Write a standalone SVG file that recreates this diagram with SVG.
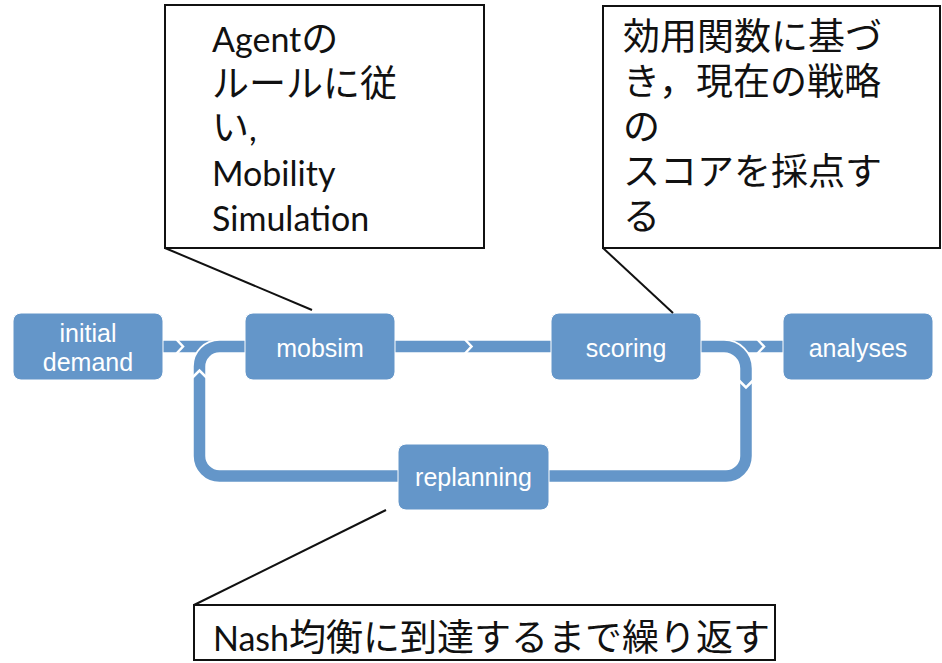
<svg xmlns="http://www.w3.org/2000/svg" width="942" height="663" viewBox="0 0 942 663">
<style>
.node rect{fill:#6496C9;stroke:#ffffff;stroke-width:1}
.node text{fill:#ffffff;font-family:"Liberation Sans",Arial,sans-serif;font-size:25px;text-anchor:middle}
.band{fill:none;stroke:#6496C9;stroke-width:11.5}
.halo{fill:none;stroke:#ffffff;stroke-width:15}
.chev{fill:none;stroke:#ffffff;stroke-width:2.5;stroke-linejoin:miter}
.call rect{fill:#ffffff;stroke:#111111;stroke-width:2}
.call line{stroke:#111111;stroke-width:2}
.call text{fill:#111111;font-family:"Noto Sans CJK JP","Noto Sans",sans-serif;font-size:37px}
.call .lat{font-family:Lato,"Open Sans",sans-serif;font-size:34px}
</style>
<rect width="942" height="663" fill="#ffffff"/>
<g id="connectors">
  <path class="band" d="M163,346.5 H245"/>
  <path class="band" d="M395,346.5 H551"/>
  <path class="band" d="M701,346.5 H783"/>
  <path class="halo" d="M398,476 H219.5 A20 20 0 0 1 199.5 456 V366.5 A20 20 0 0 1 219.5 346.5 H245"/>
  <path class="band" d="M398,476 H219.5 A20 20 0 0 1 199.5 456 V366.5 A20 20 0 0 1 219.5 346.5 H245"/>
  <path class="halo" d="M701,346.5 H724 A22 22 0 0 1 746 368.5 V456 A20 20 0 0 1 726 476 H549"/>
  <path class="band" d="M701,346.5 H724 A22 22 0 0 1 746 368.5 V456 A20 20 0 0 1 726 476 H549"/>
  <polyline class="chev" points="176.5,339.5 183,346.5 176.5,353.5"/>
  <polyline class="chev" points="465,339.5 471.5,346.5 465,353.5"/>
  <polyline class="chev" points="757.5,339.5 764,346.5 757.5,353.5"/>
  <polyline class="chev" points="192.5,377.5 199.5,370.5 206.5,377.5"/>
  <polyline class="chev" points="739,380.5 746,387.5 753,380.5"/>
</g>
<g id="initial-demand" class="node">
  <rect x="13" y="313" width="150" height="67" rx="8"/>
  <text x="88" y="342">initial</text>
  <text x="88" y="371">demand</text>
</g>
<g id="mobsim" class="node">
  <rect x="245" y="313" width="150" height="67" rx="8"/>
  <text x="320" y="357">mobsim</text>
</g>
<g id="scoring" class="node">
  <rect x="551" y="313" width="150" height="67" rx="8"/>
  <text x="626" y="357">scoring</text>
</g>
<g id="analyses" class="node">
  <rect x="783" y="313" width="150" height="67" rx="8"/>
  <text x="858" y="357">analyses</text>
</g>
<g id="replanning" class="node">
  <rect x="398" y="444" width="151" height="66" rx="8"/>
  <text x="473.5" y="486">replanning</text>
</g>
<g id="callout-mobsim" class="call">
  <line x1="165" y1="248" x2="312" y2="310"/>
  <rect x="165" y="5" width="319" height="243"/>
  <text x="212" y="52"><tspan class="lat">Agent</tspan>の</text>
  <text x="212" y="97">ルールに従</text>
  <text x="212" y="141">い<tspan class="lat">,</tspan></text>
  <text x="212" y="186" class="lat">Mobility</text>
  <text x="212" y="231" class="lat">Simulation</text>
</g>
<g id="callout-scoring" class="call">
  <line x1="603" y1="248" x2="673" y2="313"/>
  <rect x="603" y="6" width="337" height="242"/>
  <text x="623" y="50">効用関数に基づ</text>
  <text x="623" y="95">き，現在の戦略</text>
  <text x="623" y="140">の</text>
  <text x="623" y="185">スコアを採点す</text>
  <text x="623" y="230">る</text>
</g>
<g id="callout-replanning" class="call">
  <line x1="194" y1="605" x2="386" y2="510"/>
  <rect x="194" y="605" width="581" height="55"/>
  <text x="213" y="651"><tspan class="lat">Nash</tspan>均衡に到達するまで繰り返す</text>
</g>
</svg>
